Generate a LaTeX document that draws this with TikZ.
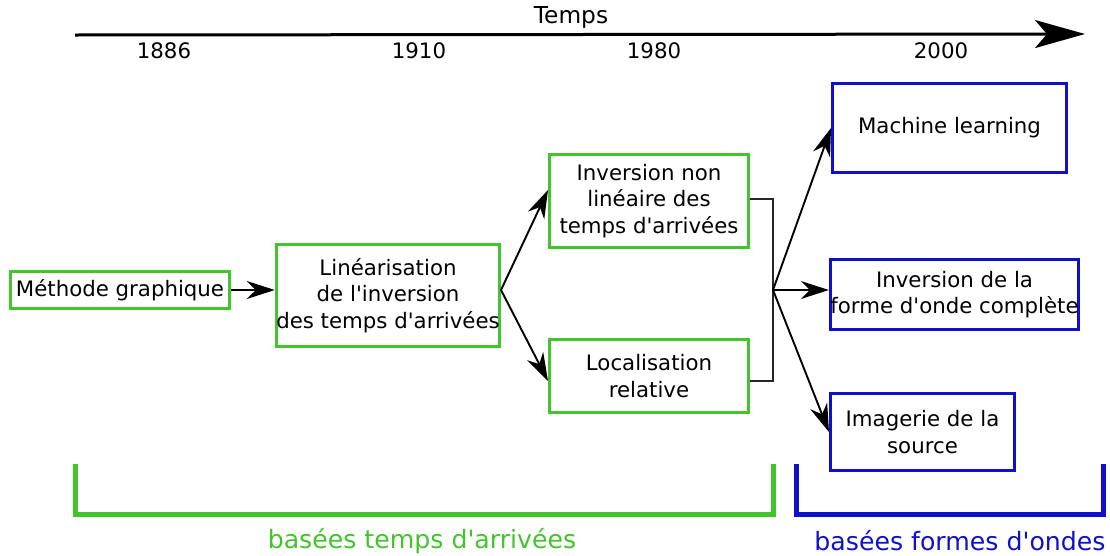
\documentclass[tikz,border=0pt]{standalone}
\usepackage{fontspec}
\setmainfont{DejaVu Sans}
\usetikzlibrary{arrows.meta}
\definecolor{vert}{RGB}{68,196,44}
\definecolor{bleu}{RGB}{16,16,204}
\tikzset{
  boite/.style={draw=vert, line width=3pt, inner sep=0pt, align=center},
  boiteb/.style={boite, draw=bleu},
  fleche/.style={-{Stealth[length=28pt,width=18pt,inset=9pt]}, line width=1.9pt},
}
\begin{document}
\begin{tikzpicture}[x=1pt, y=-1pt, font=\fontsize{21.3}{26.5}\selectfont]
\useasboundingbox (0,0) rectangle (1110,555);
\coordinate (debut) at (75,35);
\coordinate (fin) at (1085,34);
\draw[line width=3pt, -{Stealth[length=50pt,width=28pt,inset=12pt]}] (debut) -- (fin);
\node[font=\fontsize{23.3}{28}\selectfont] (temps) at (571,17) {Temps};
\node (a1886) at (164,51) {1886};
\node (a1910) at (419,51) {1910};
\node (a1980) at (654,51) {1980};
\node (a2000) at (941,51) {2000};

\node[boite, minimum width=219pt, minimum height=37pt] (methode) at (120,290) {Méthode graphique};
\node[boite, minimum width=223pt, minimum height=102pt] (lin) at (388,295.5) {Linéarisation\\de l\textquotesingle inversion\\des temps d\textquotesingle arrivées};
\node[boite, minimum width=199pt, minimum height=93pt] (inv) at (649,201) {Inversion non\\linéaire des\\temps d\textquotesingle arrivées};
\node[boite, minimum width=199pt, minimum height=73pt] (loc) at (649,376) {Localisation\\relative};
\node[boiteb, minimum width=234pt, minimum height=89pt] (ml) at (949.5,128) {Machine learning};
\node[boiteb, minimum width=248pt, minimum height=70pt] (forme) at (954.5,294.5) {Inversion de la\\forme d\textquotesingle onde complète};
\node[boiteb, minimum width=184pt, minimum height=77pt] (img) at (922.5,432) {Imagerie de la\\source};

\draw[fleche] (methode.east) -- (methode.east -| lin.west);
\coordinate (fourche) at (501,290);
\draw[fleche] (fourche) -- (inv.west |- 0,190);
\draw[fleche] (fourche) -- (loc.west |- 0,381);
\coordinate (jonction) at (773,290);
\draw[line width=1.5pt, black!85] (inv.east |- 0,199) -| (jonction) |- (loc.east |- 0,381);
\draw[fleche] (jonction) -- (ml.west);
\draw[fleche] (jonction) -- (jonction -| forme.west);
\draw[fleche] (jonction) -- (img.west);

\draw[vert, line width=5pt] (75,464) |- (773,514) -- (773,464);
\draw[bleu, line width=5pt] (796,464) |- (1103,514) -- (1103,464);
\node[text=vert, font=\fontsize{25.2}{30}\selectfont] (arrivees) at (422,541) {basées temps d\textquotesingle arrivées};
\node[text=bleu, font=\fontsize{25.2}{30}\selectfont] (ondes) at (960,541) {basées formes d\textquotesingle ondes};
\end{tikzpicture}
\end{document}
